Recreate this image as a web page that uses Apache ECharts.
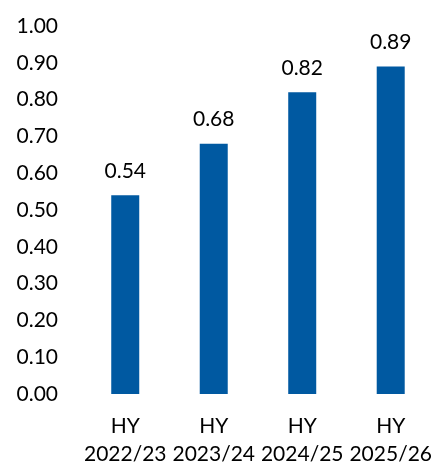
<!DOCTYPE html>
<html>
<head>
<meta charset="utf-8">
<script src="https://cdn.jsdelivr.net/npm/echarts@6/dist/echarts.min.js"></script>
<style>
  html, body { margin: 0; padding: 0; background: #ffffff; }
  #chart { width: 435px; height: 468px; }
</style>
</head>
<body>
<div id="chart"></div>
<script>
// Half-year periods and their values
const categories = ['HY\n2022/23', 'HY\n2023/24', 'HY\n2024/25', 'HY\n2025/26'];
const values = [0.54, 0.68, 0.82, 0.89];

const FONT = 'Lato, "Open Sans", sans-serif';
const TEXT = '#000000';
const chart = echarts.init(document.getElementById('chart'), null, { renderer: 'canvas' });

chart.setOption({
  animation: false,
  grid: { left: 81, right: 0, top: 26, bottom: 70 },
  xAxis: {
    type: 'category',
    data: categories,
    axisLine: { show: false },
    axisTick: { show: false },
    axisLabel: {
      color: TEXT,
      fontFamily: FONT,
      fontSize: 21,
      lineHeight: 28,
      margin: 18,
      interval: 0
    }
  },
  yAxis: {
    type: 'value',
    min: 0,
    max: 1,
    interval: 0.1,
    splitLine: { show: false },
    axisLine: { show: false },
    axisTick: { show: false },
    axisLabel: {
      color: TEXT,
      fontFamily: FONT,
      fontSize: 21,
      margin: 23,
      formatter: v => v.toFixed(2)
    }
  },
  series: [{
    type: 'bar',
    data: values,
    barWidth: 28,
    itemStyle: { color: '#0059A1' },
    label: {
      show: true,
      position: 'top',
      distance: 14,
      color: TEXT,
      fontFamily: FONT,
      fontSize: 21,
      formatter: p => p.value.toFixed(2)
    }
  }]
});
</script>
</body>
</html>
